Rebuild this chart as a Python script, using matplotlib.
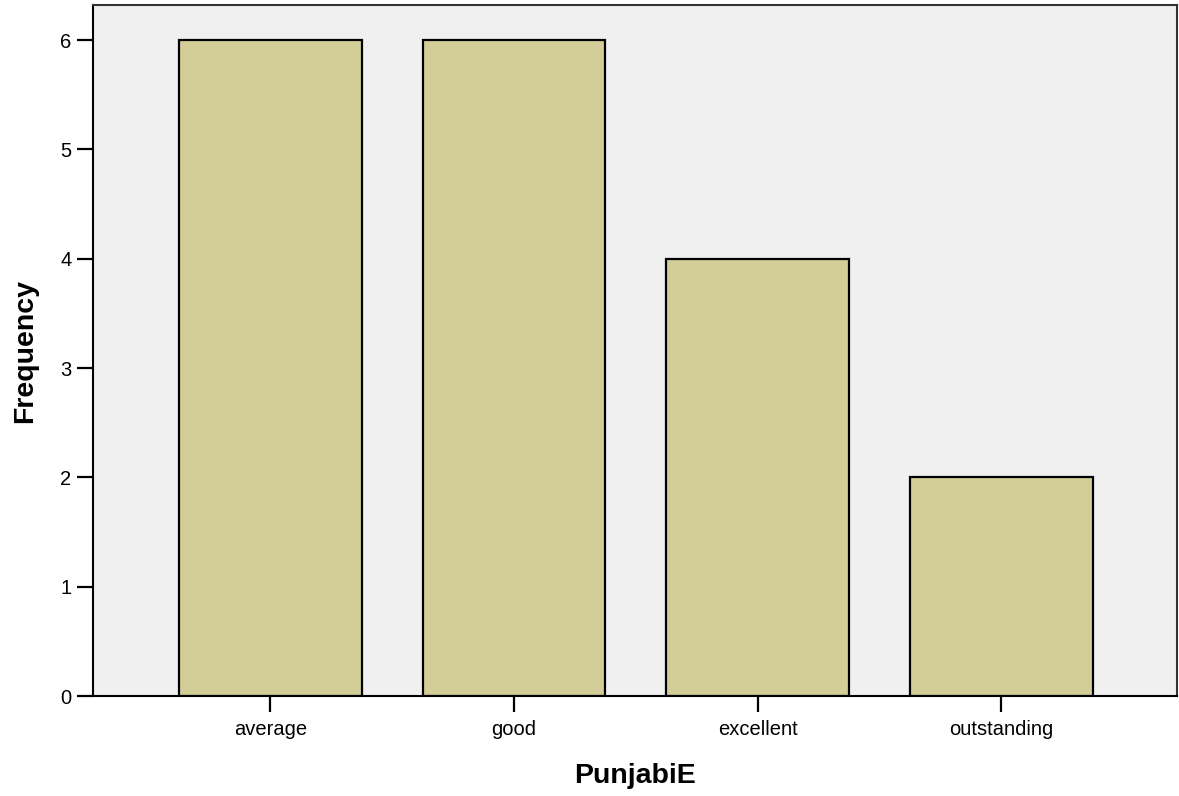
import numpy as np
import matplotlib.pyplot as plt

categories = ['average', 'good', 'excellent', 'outstanding']
frequency = [6, 6, 4, 2]

plt.rcParams['font.family'] = ['Liberation Sans', 'DejaVu Sans']

fig = plt.figure(figsize=(11.79, 7.96), dpi=100)
ax = fig.add_axes([0.0789, 0.1256, 0.9194, 0.8681])
ax.set_facecolor('#f0f0f0')

x = np.arange(len(categories))
ax.bar(x, frequency, width=0.75, color='#d3ce98', edgecolor='black', linewidth=1.6, zorder=2)

ax.set_xlim(-0.727, 3.72)
ax.set_ylim(0, 6.32)
ax.set_xticks(x)
ax.set_xticklabels(categories)
ax.set_yticks(range(0, 7))
ax.tick_params(direction='out', length=11.5, width=1.6, labelsize=14.5)
ax.tick_params(axis='x', pad=6)
ax.tick_params(axis='y', pad=4)

for s in ['left', 'bottom']:
    ax.spines[s].set_linewidth(1.5)
    ax.spines[s].set_color('black')
for s in ['top', 'right']:
    ax.spines[s].set_linewidth(1.5)
    ax.spines[s].set_color('#333333')

ax.set_xlabel('PunjabiE', fontsize=20.5, fontweight='bold', labelpad=17)
ax.set_ylabel('Frequency', fontsize=20.5, fontweight='bold', labelpad=16)

fig.savefig('out.png', dpi=100)
